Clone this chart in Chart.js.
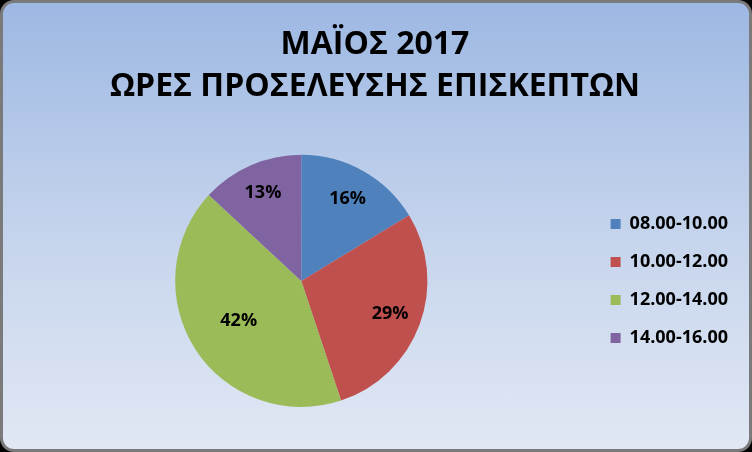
<!DOCTYPE html>
<html>
<head>
<meta charset="utf-8">
<script src="https://cdn.jsdelivr.net/npm/chart.js@4"></script>
<style>
  html, body { margin: 0; padding: 0; background: #000; }
  #frame {
    position: absolute; left: 0; top: 0;
    width: 752px; height: 452px;
    box-sizing: border-box;
    border: 3px solid #7a7a7a;
    border-radius: 14px;
    background: linear-gradient(to bottom, #9db8e3 0%, #c4d3ec 50%, #e1e8f4 100%);
  }
  #wrap { position: absolute; left: 0; top: 0; width: 752px; height: 452px; }
</style>
</head>
<body>
<div id="frame"></div>
<div id="wrap"><canvas id="pieChart" width="752" height="452"></canvas></div>
<script>
// ============================================
// ΜΑΪΟΣ 2017 - ΩΡΕΣ ΠΡΟΣΕΛΕΥΣΗΣ
// ============================================

const titleLines = ['ΜΑΪΟΣ 2017', 'ΩΡΕΣ ΠΡΟΣΕΛΕΥΣΗΣ ΕΠΙΣΚΕΠΤΩΝ'];
const timeSlots = ['08.00-10.00', '10.00-12.00', '12.00-14.00', '14.00-16.00'];
const visitShare = [16.3, 28.6, 42.0, 13.1];
const sliceColors = ['#4f81bd', '#c0504d', '#9bbb59', '#8064a2'];
// label distance from centre, as a fraction of the radius
const labelRadius = [0.75, 0.75, 0.59, 0.76];

const FONT = '"Open Sans", "Noto Sans", sans-serif';

// percentage labels drawn inside the slices
const sliceLabels = {
    id: 'sliceLabels',
    afterDatasetsDraw(chart) {
        const ctx = chart.ctx;
        const meta = chart.getDatasetMeta(0);
        const data = chart.data.datasets[0].data;
        const total = data.reduce((a, b) => a + b, 0);
        ctx.save();
        ctx.font = 'bold 18px ' + FONT;
        ctx.fillStyle = '#000';
        ctx.textAlign = 'center';
        ctx.textBaseline = 'middle';
        meta.data.forEach((arc, i) => {
            const p = arc.getProps(['x', 'y', 'startAngle', 'endAngle', 'outerRadius'], true);
            const mid = (p.startAngle + p.endAngle) / 2;
            const r = p.outerRadius * labelRadius[i];
            const pct = Math.round(data[i] / total * 100) + '%';
            ctx.fillText(pct, p.x + Math.cos(mid) * r, p.y + Math.sin(mid) * r);
        });
        ctx.restore();
    }
};

new Chart(document.getElementById('pieChart'), {
    type: 'pie',
    data: {
        labels: timeSlots,
        datasets: [{
            data: visitShare,
            backgroundColor: sliceColors,
            borderWidth: 0
        }]
    },
    options: {
        responsive: false,
        animation: false,
        layout: {
            padding: { left: 12, right: 14, top: 0, bottom: 45 }
        },
        plugins: {
            title: {
                display: true,
                text: titleLines,
                color: '#000',
                font: { family: FONT, size: 32, weight: 'bold', lineHeight: 1.34 },
                padding: { top: 23, bottom: 46 }
            },
            legend: {
                position: 'right',
                fullSize: false,
                labels: {
                    color: '#000',
                    boxWidth: 10,
                    boxHeight: 10,
                    padding: 20,
                    font: { family: FONT, size: 18, weight: 'bold' }
                }
            },
            tooltip: { enabled: false }
        }
    },
    plugins: [sliceLabels]
});
</script>
</body>
</html>
